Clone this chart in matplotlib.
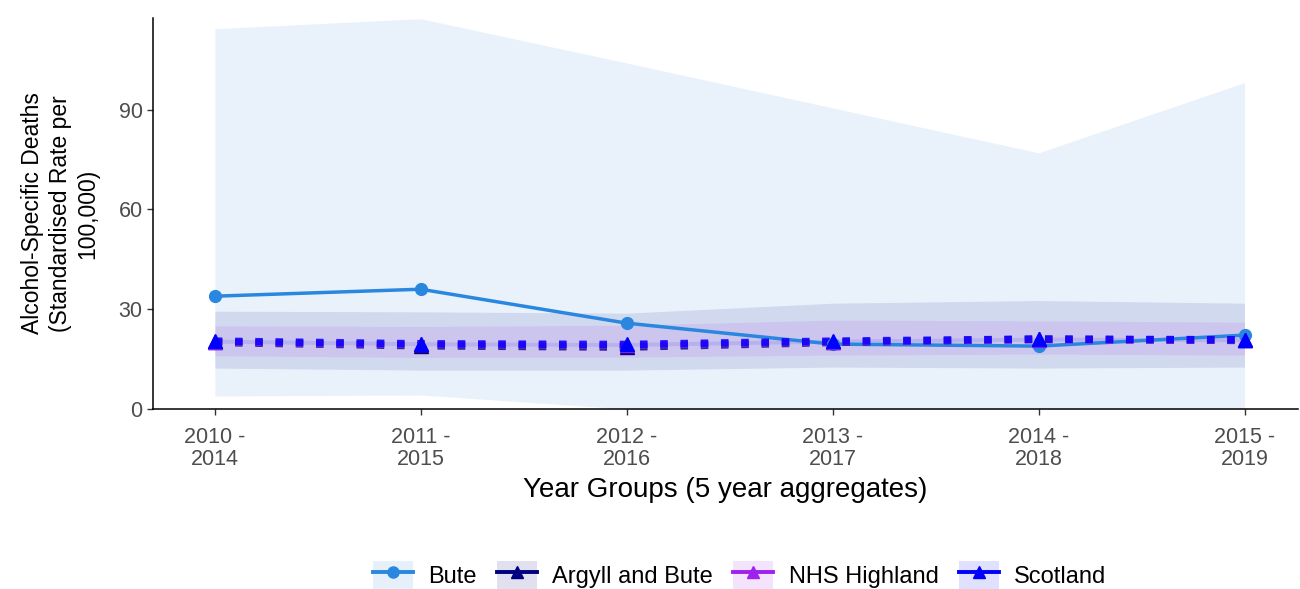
import matplotlib
matplotlib.use("Agg")
import matplotlib.pyplot as plt
from matplotlib.lines import Line2D
from matplotlib.patches import Patch

plt.rcParams["font.family"] = ["Liberation Sans", "DejaVu Sans"]

# --- data ---
year_groups = ["2010 -\n2014", "2011 -\n2015", "2012 -\n2016",
               "2013 -\n2017", "2014 -\n2018", "2015 -\n2019"]

bute = [33.9, 36.0, 25.8, 19.5, 18.9, 22.2]
bute_lo = [3.9, 4.2, 0.0, 0.0, 0.0, 0.0]
bute_hi = [114.3, 117.3, 104.0, 90.5, 77.0, 98.1]

argyll = [20.0, 19.0, 18.6, 20.0, 21.0, 20.6]
argyll_lo = [12.3, 11.7, 11.7, 12.6, 12.3, 12.6]
argyll_hi = [29.4, 29.2, 28.8, 31.8, 32.6, 31.8]

highland = [20.2, 19.4, 19.2, 20.2, 20.8, 20.7]
highland_lo = [16.0, 15.5, 15.6, 16.2, 16.5, 16.2]
highland_hi = [25.0, 24.8, 25.2, 26.7, 26.5, 26.1]

scotland = [20.4, 19.6, 19.4, 20.4, 21.0, 20.8]
scotland_lo = [19.8, 19.0, 18.8, 19.8, 20.4, 20.2]
scotland_hi = [21.0, 20.2, 20.0, 21.0, 21.6, 21.4]

series = [
    ("Bute", bute, bute_lo, bute_hi, "#2a87e0", "-", "o"),
    ("Argyll and Bute", argyll, argyll_lo, argyll_hi, "#000080", (0, (1, 1.7)), "^"),
    ("NHS Highland", highland, highland_lo, highland_hi, "#a020f0", (0, (1, 1.7)), "^"),
    ("Scotland", scotland, scotland_lo, scotland_hi, "#0000ff", (0, (1, 1.7)), "^"),
]

fig = plt.figure(figsize=(13, 5.89), dpi=100)
ax = fig.add_axes([0.1177, 0.3056, 0.8808, 0.6638])

x = list(range(len(year_groups)))

# ribbons first, then lines and points on top
for name, vals, lo, hi, col, ls, mk in series:
    ax.fill_between(x, lo, hi, color=col, alpha=0.1, linewidth=0)

handles = []
for name, vals, lo, hi, col, ls, mk in series:
    solid = ls == "-"
    ax.plot(x, vals, color=col, linestyle=ls,
            linewidth=2.5 if solid else 5.4,
            dash_capstyle="butt", alpha=1 if solid else 0.8, zorder=3)
    ax.plot(x, vals, color=col, linestyle="none", marker=mk,
            markersize=8.5 if solid else 10, zorder=4)
    key_bg = Patch(facecolor=col, alpha=0.12, edgecolor="none")
    key_line = Line2D([], [], color=col, linewidth=2.8, marker=mk,
                      markersize=8)
    handles.append((key_bg, key_line))

ax.set_xlim(-0.3, 5.26)
ax.set_ylim(0, 117.5)
ax.set_xticks(x)
ax.set_xticklabels(year_groups, linespacing=1.08)
ax.set_yticks([0, 30, 60, 90])

for side in ("top", "right"):
    ax.spines[side].set_visible(False)
for side in ("left", "bottom"):
    ax.spines[side].set_linewidth(1.1)
ax.tick_params(axis="both", labelsize=15.5, labelcolor="#4d4d4d",
               length=4, width=1.0, color="#333333")
ax.tick_params(axis="x", pad=9)

ax.set_xlabel("Year Groups (5 year aggregates)", fontsize=20, labelpad=5)
ax.set_ylabel("Alcohol-Specific Deaths\n(Standardised Rate per\n100,000)",
              fontsize=16.5, linespacing=1.25, labelpad=14)

fig.legend(handles, [s[0] for s in series], loc="center",
           bbox_to_anchor=(0.569, 0.024), ncol=4, frameon=False,
           fontsize=17, handlelength=1.7, handleheight=1.45,
           handletextpad=0.65, columnspacing=0.85)

fig.savefig("out.png", dpi=100, facecolor="white")
